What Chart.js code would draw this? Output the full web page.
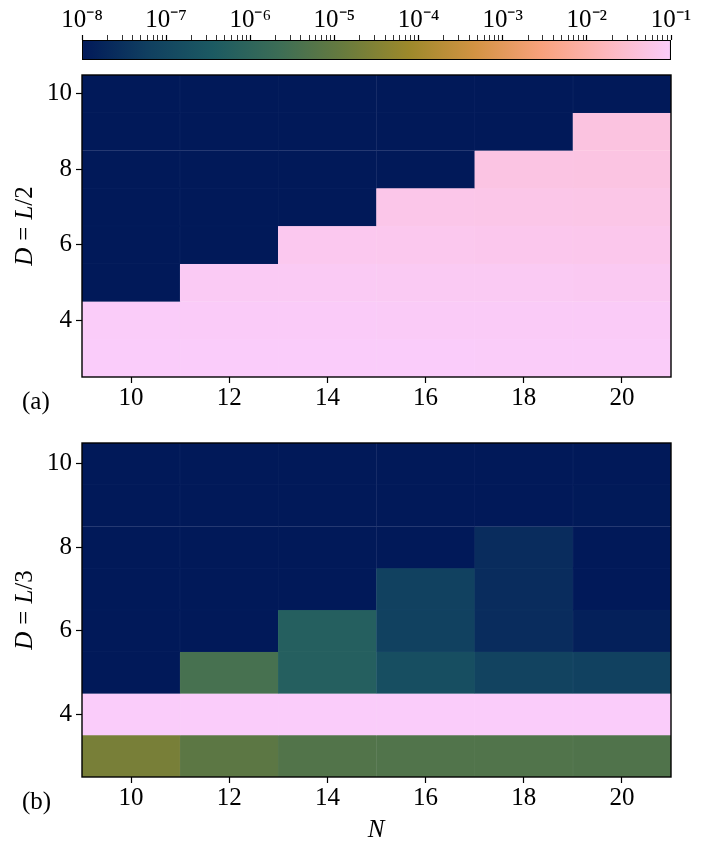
<!DOCTYPE html>
<html>
<head>
<meta charset="utf-8">
<script src="https://cdn.jsdelivr.net/npm/chart.js@4.4.1/dist/chart.umd.min.js"></script>
<style>
  body { margin: 0; background: #fff; }
  #page { position: relative; width: 706px; height: 854px; font-family: 'Liberation Serif', serif; color: #000; }
  .box { position: absolute; left: 0; width: 706px; }
  .lbl { position: absolute; font-size: 25px; line-height: 1; white-space: nowrap; }
  .ytitle { transform: translate(-50%, -50%) rotate(-90deg); }
  .eq { margin: 0 7px; }
</style>
</head>
<body>
<div id="page">
  <div class="box" style="top:2px;height:59px"><canvas id="cbar"></canvas></div>
  <div class="box" style="top:60px;height:360px"><canvas id="panelA"></canvas></div>
  <div class="box" style="top:428px;height:392px"><canvas id="panelB"></canvas></div>

  <div class="lbl ytitle" style="left:23px;top:226px"><i>D</i><span class="eq">=</span><i>L</i>/2</div>
  <div class="lbl ytitle" style="left:23px;top:610px"><i>D</i><span class="eq">=</span><i>L</i>/3</div>
  <div class="lbl" style="left:22px;top:388px">(a)</div>
  <div class="lbl" style="left:22px;top:788px">(b)</div>
  <div class="lbl" style="left:376px;top:816px;transform:translateX(-50%)"><i>N</i></div>
</div>

<script>
// grid of the two panels
const N_VALUES = [10, 12, 14, 16, 18, 20];
const D_VALUES = [3, 4, 5, 6, 7, 8, 9, 10];
const X_TICKS = [10, 12, 14, 16, 18, 20];
const Y_TICKS = [4, 6, 8, 10];
const CBAR_EXPONENTS = [-8, -7, -6, -5, -4, -3, -2, -1];
const CBAR_MINOR = [2, 3, 4, 5, 6, 7, 8, 9];

// one row per D (3 -> 10), one column per N (10 -> 20)
// 1e-10 means below the colour range (drawn as the darkest colour)
const ERR_HALF = [
  [0.1, 0.1, 0.099, 0.099, 0.098, 0.098],
  [0.096, 0.095, 0.094, 0.093, 0.093, 0.092],
  [1e-10, 0.085, 0.084, 0.082, 0.081, 0.08],
  [1e-10, 1e-10, 0.072, 0.07, 0.068, 0.066],
  [1e-10, 1e-10, 1e-10, 0.062, 0.06, 0.058],
  [1e-10, 1e-10, 1e-10, 1e-10, 0.052, 0.05],
  [1e-10, 1e-10, 1e-10, 1e-10, 1e-10, 0.047],
  [1e-10, 1e-10, 1e-10, 1e-10, 1e-10, 1e-10]
];

const ERR_THIRD = [
  [2.2e-5, 8e-6, 5.2e-6, 5e-6, 5e-6, 4.8e-6],
  [0.1, 0.1, 0.1, 0.099, 0.099, 0.099],
  [1e-10, 3.4e-6, 6e-7, 1.6e-7, 8e-8, 7e-8],
  [1e-10, 1e-10, 6e-7, 7e-8, 2.5e-8, 1.4e-8],
  [1e-10, 1e-10, 1e-10, 7e-8, 2.5e-8, 1e-10],
  [1e-10, 1e-10, 1e-10, 1e-10, 2.5e-8, 1e-10],
  [1e-10, 1e-10, 1e-10, 1e-10, 1e-10, 1.05e-8],
  [1e-10, 1e-10, 1e-10, 1e-10, 1e-10, 1e-10]
];

// batlow-like colormap
const STOPS = ['#011959', '#103F60', '#1C5A62', '#3C6D56', '#687B3E',
               '#9D892B', '#D29343', '#F8A17B', '#FDB7BC', '#FACCFA'];

function hexRgb(h) {
  return [1, 3, 5].map(i => parseInt(h.substr(i, 2), 16));
}

function cmapRgb(t) {
  t = Math.max(0, Math.min(1, t));
  const pos = t * (STOPS.length - 1);
  const i = Math.min(Math.floor(pos), STOPS.length - 2);
  const f = pos - i;
  const a = hexRgb(STOPS[i]), b = hexRgb(STOPS[i + 1]);
  return a.map((v, k) => v + (b[k] - v) * f);
}

const LOG_MIN = CBAR_EXPONENTS[0];
const LOG_MAX = CBAR_EXPONENTS[CBAR_EXPONENTS.length - 1];

function rgbFor(v) {
  return cmapRgb((Math.log10(v) - LOG_MIN) / (LOG_MAX - LOG_MIN));
}

function css(c) {
  return 'rgb(' + c.map(Math.round).join(',') + ')';
}

// cell edge: the cell colour with a touch of white (faint seams as in the original)
function edge(c) {
  return css(c.map(v => v + (255 - v) * 0.04));
}

function cellsFrom(grid) {
  const pts = [], cols = [], edges = [];
  D_VALUES.forEach((d, i) => {
    N_VALUES.forEach((n, j) => {
      const c = rgbFor(grid[i][j]);
      pts.push({ x: n, y: [d - 0.5, d + 0.5] });
      cols.push(css(c));
      edges.push(edge(c));
    });
  });
  return { pts: pts, cols: cols, edges: edges };
}

const SUP = { '-': '\u207B', '0': '\u2070', '1': '\u00B9', '2': '\u00B2', '3': '\u00B3',
  '4': '\u2074', '5': '\u2075', '6': '\u2076', '7': '\u2077', '8': '\u2078', '9': '\u2079' };

function powLabel(e) {
  return '10' + String(e).split('').map(ch => SUP[ch]).join('');
}

const FONT = 'Liberation Serif';
const tickFont = { family: FONT, size: 25 };

// black frame round the plot area
const frame = {
  id: 'frame',
  afterDraw(chart) {
    const a = chart.chartArea;
    const ctx = chart.ctx;
    ctx.save();
    ctx.strokeStyle = '#000';
    ctx.lineWidth = 1.4;
    ctx.strokeRect(a.left, a.top, a.width, a.height);
    ctx.restore();
  }
};

function heatmap(id, grid) {
  const c = cellsFrom(grid);
  return new Chart(id, {
    type: 'bar',
    data: {
      datasets: [{
        data: c.pts,
        backgroundColor: c.cols,
        borderColor: c.edges,
        borderWidth: 0.6,
        borderSkipped: false,
        barPercentage: 1,
        categoryPercentage: 1
      }]
    },
    options: {
      responsive: true,
      maintainAspectRatio: false,
      animation: false,
      layout: { padding: { top: 15, right: 35, left: 0, bottom: 0 } },
      plugins: { legend: { display: false }, tooltip: { enabled: false } },
      scales: {
        x: {
          type: 'linear',
          min: 9,
          max: 21,
          offset: false,
          afterBuildTicks: ax => { ax.ticks = X_TICKS.map(v => ({ value: v })); },
          afterFit: ax => { ax.height = 43; ax.paddingLeft = 0; ax.paddingRight = 0; },
          grid: { offset: false, drawOnChartArea: false, tickLength: 6, tickColor: '#000', tickWidth: 1.2 },
          border: { display: false },
          ticks: { font: tickFont, color: '#000', padding: 0, maxRotation: 0, autoSkip: false }
        },
        y: {
          type: 'linear',
          min: 2.5,
          max: 10.5,
          afterBuildTicks: ax => { ax.ticks = Y_TICKS.map(v => ({ value: v })); },
          afterFit: ax => { ax.width = 82; ax.paddingTop = 0; ax.paddingBottom = 0; },
          grid: { drawOnChartArea: false, tickLength: 6, tickColor: '#000', tickWidth: 1.2 },
          border: { display: false },
          ticks: { font: tickFont, color: '#000', padding: 4, autoSkip: false }
        }
      }
    },
    plugins: [frame]
  });
}

function barGradient(ctx) {
  const area = ctx.chart.chartArea;
  if (!area) return STOPS[0];
  const g = ctx.chart.ctx.createLinearGradient(area.left, 0, area.right, 0);
  STOPS.forEach((col, i) => g.addColorStop(i / (STOPS.length - 1), col));
  return g;
}

// colour bar
const cbarTicks = [];
CBAR_EXPONENTS.forEach((e, i) => {
  cbarTicks.push({ value: Math.pow(10, e), major: true });
  if (i < CBAR_EXPONENTS.length - 1) {
    CBAR_MINOR.forEach(m => cbarTicks.push({ value: m * Math.pow(10, e), major: false }));
  }
});

new Chart('cbar', {
  type: 'bar',
  data: {
    labels: [''],
    datasets: [{
      data: [[Math.pow(10, LOG_MIN), Math.pow(10, LOG_MAX)]],
      backgroundColor: barGradient,
      borderColor: '#000',
      borderWidth: 1.4,
      borderSkipped: false,
      barPercentage: 1,
      categoryPercentage: 1
    }]
  },
  options: {
    indexAxis: 'y',
    responsive: true,
    maintainAspectRatio: false,
    animation: false,
    layout: { padding: { top: 0, right: 35, left: 82, bottom: 1 } },
    plugins: { legend: { display: false }, tooltip: { enabled: false } },
    scales: {
      x: {
        type: 'logarithmic',
        position: 'top',
        min: Math.pow(10, LOG_MIN),
        max: Math.pow(10, LOG_MAX),
        afterBuildTicks: ax => { ax.ticks = cbarTicks.map(t => ({ value: t.value, major: t.major })); },
        afterFit: ax => { ax.height = 38; ax.paddingLeft = 0; ax.paddingRight = 0; },
        grid: {
          drawOnChartArea: false,
          tickLength: 5,
          tickColor: '#000',
          tickWidth: ctx => (ctx.tick && ctx.tick.major ? 1.2 : 0.8)
        },
        border: { display: false },
        ticks: {
          autoSkip: false,
          maxRotation: 0,
          padding: 0,
          color: '#000',
          font: { family: FONT, size: 25 },
          callback: function (value) {
            const e = Math.log10(value);
            return Math.abs(e - Math.round(e)) < 1e-6 ? powLabel(Math.round(e)) : '';
          }
        }
      },
      y: { display: false }
    }
  }
});

heatmap('panelA', ERR_HALF);
heatmap('panelB', ERR_THIRD);
</script>
</body>
</html>
